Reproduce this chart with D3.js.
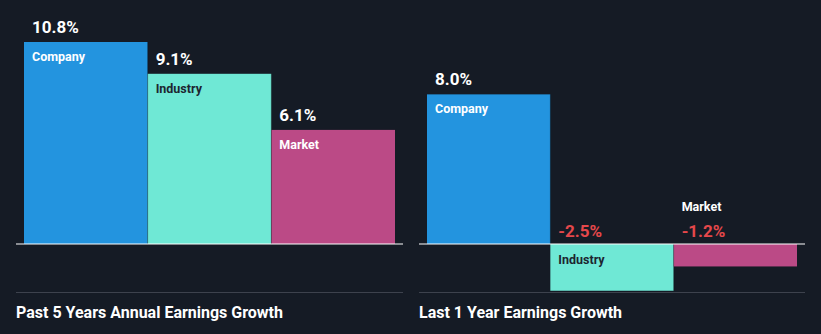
<!DOCTYPE html>
<html>
<head>
<meta charset="utf-8">
<script src="https://cdn.jsdelivr.net/npm/d3@7"></script>
<style>
  html, body { margin: 0; padding: 0; background: #151b25; }
  svg { display: block; font-family: Roboto, "Noto Sans", sans-serif; }
</style>
</head>
<body>
<svg id="chart" width="821" height="334"></svg>
<script>
// Earnings growth comparison, two periods
const categories = ["Company", "Industry", "Market"];
const past5Years = [10.8, 9.1, 6.1];
const last1Year = [8.0, -2.5, -1.2];
const panelTitles = ["Past 5 Years Annual Earnings Growth", "Last 1 Year Earnings Growth"];

const colors = { Company: "#2394df", Industry: "#6fe8d5", Market: "#bb4a86" };
const innerText = { Company: "#ffffff", Industry: "#1d2530", Market: "#ffffff" };

const svg = d3.select("#chart");
const W = 821, H = 334;
svg.append("rect").attr("width", W).attr("height", H).attr("fill", "#151b25");

// shared value scale so both panels use the same unit height
const y = d3.scaleLinear().domain([0, 10.8]).range([244, 42]);

const panels = [
  { values: past5Years, title: panelTitles[0], axisX: [16, 403], bars: [24, 395] },
  { values: last1Year, title: panelTitles[1], axisX: [419, 805], bars: [427, 797] }
];

// plain hyphen for negatives
const fmt = v => d3.format(".1f")(v).replace("\u2212", "-") + "%";

panels.forEach(p => {
  const g = svg.append("g");
  const x = d3.scaleBand().domain(categories).range(p.bars).paddingInner(0).paddingOuter(0);
  const data = categories.map((c, i) => ({ cat: c, value: p.values[i] }));

  g.selectAll("rect.bar").data(data).join("rect")
    .attr("class", "bar")
    .attr("x", d => x(d.cat))
    .attr("width", x.bandwidth())
    .attr("y", d => Math.min(y(d.value), y(0)))
    .attr("height", d => Math.abs(y(d.value) - y(0)))
    .attr("fill", d => colors[d.cat]);

  // thin darker edge between neighbouring bars
  g.selectAll("line.edge").data(data.slice(0, 2)).join("line")
    .attr("x1", d => x(d.cat) + x.bandwidth())
    .attr("x2", d => x(d.cat) + x.bandwidth())
    .attr("y1", d => Math.min(y(d.value), y(0)))
    .attr("y2", d => Math.max(y(d.value), y(0)))
    .attr("stroke", "rgba(0,0,0,0.25)")
    .attr("stroke-width", 1);

  // zero line
  g.append("line")
    .attr("x1", p.axisX[0]).attr("x2", p.axisX[1])
    .attr("y1", y(0)).attr("y2", y(0))
    .attr("stroke", "#ffffff").attr("stroke-width", 1.2);

  data.forEach(d => {
    const lx = x(d.cat) + 8;
    if (d.value >= 0) {
      g.append("text")
        .attr("x", lx).attr("y", y(d.value) - 9)
        .attr("fill", "#ffffff").attr("font-size", 17).attr("font-weight", 700)
        .text(fmt(d.value));
      g.append("text")
        .attr("x", lx).attr("y", y(d.value) + 19)
        .attr("fill", innerText[d.cat]).attr("font-size", 12.5).attr("font-weight", 700)
        .text(d.cat);
    } else {
      g.append("text")
        .attr("x", lx).attr("y", y(0) - 7)
        .attr("fill", "#e5484b").attr("font-size", 17).attr("font-weight", 700)
        .text(fmt(d.value));
      const bh = Math.abs(y(d.value) - y(0));
      if (bh > 30) {
        g.append("text")
          .attr("x", lx).attr("y", y(0) + 20)
          .attr("fill", innerText[d.cat]).attr("font-size", 12.5).attr("font-weight", 700)
          .text(d.cat);
      } else {
        g.append("text")
          .attr("x", lx).attr("y", y(0) - 33)
          .attr("fill", "#ffffff").attr("font-size", 12.5).attr("font-weight", 700)
          .text(d.cat);
      }
    }
  });

  // separator and panel title
  g.append("line")
    .attr("x1", p.axisX[0]).attr("x2", p.axisX[1])
    .attr("y1", 292.5).attr("y2", 292.5)
    .attr("stroke", "#3d424d").attr("stroke-width", 1);
  g.append("text")
    .attr("x", p.axisX[0]).attr("y", 318)
    .attr("fill", "#ffffff").attr("font-size", 16).attr("font-weight", 700)
    .text(p.title);
});
</script>
</body>
</html>
